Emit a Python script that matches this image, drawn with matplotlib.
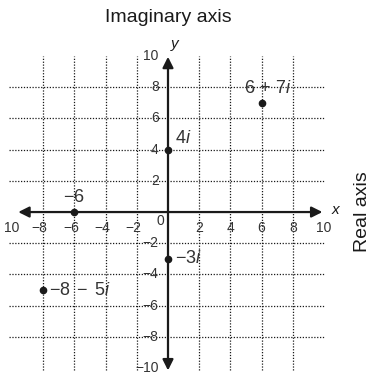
import matplotlib.pyplot as plt
import numpy as np

plt.rcParams['font.family'] = ['Liberation Sans', 'DejaVu Sans']
plt.rcParams['mathtext.fontset'] = 'custom'
plt.rcParams['mathtext.rm'] = 'Liberation Sans'
plt.rcParams['mathtext.it'] = 'Liberation Sans:italic'

# complex numbers plotted as (real, imaginary)
re_vals = [6, 0, -6, 0, -8]
im_vals = [7, 4, 0, -3, -5]
point_labels = [r'$6\,+\,7i$', r'$4i$', r'$-6$', r'$-3i$', r'$-8\;-\;5i$']

grid_vals = [-8, -6, -4, -2, 2, 4, 6, 8]
x_tick_vals = [-10, -8, -6, -4, -2, 2, 4, 6, 8, 10]
x_tick_labels = ['10', '\u22128', '\u22126', '\u22124', '\u22122', '2', '4', '6', '8', '10']
y_tick_vals = [10, 8, 6, 4, 2, -2, -4, -6, -8, -10]
y_tick_labels = ['10', '8', '6', '4', '2', '\u22122', '\u22124', '\u22126', '\u22128', '\u221210']

ink = '#1a1a1a'

fig = plt.figure(figsize=(3.70, 3.74), dpi=100)
ax = fig.add_axes([0, 0, 1, 1])
ax.set_xlim(-10.77, 12.95)
ax.set_ylim(-10.38, 13.59)
ax.axis('off')

# dotted grid
for g in grid_vals:
    ax.plot([g, g], [-10.1, 10.0], color=ink, lw=0.9, ls=(0, (1, 1.3)))
    ax.plot([-10.2, 10.0], [g, g], color=ink, lw=0.9, ls=(0, (1, 1.3)))

# axes with arrows
ax.annotate('', xy=(9.9, 0), xytext=(-9.6, 0),
            arrowprops=dict(arrowstyle='<|-|>', color=ink, lw=1.6,
                            mutation_scale=16, shrinkA=0, shrinkB=0))
ax.annotate('', xy=(0, 9.95), xytext=(0, -10.15),
            arrowprops=dict(arrowstyle='<|-|>', color=ink, lw=1.6,
                            mutation_scale=16, shrinkA=0, shrinkB=0))

# tick labels
for v, lab in zip(x_tick_vals, x_tick_labels):
    if lab.startswith('\u2212'):
        ax.text(v + 0.28, -1.05, lab, ha='right', va='center', fontsize=10, color='#333333')
    else:
        ax.text(v, -1.05, lab, ha='center', va='center', fontsize=10, color='#333333')
ax.text(-0.5, -0.6, '0', ha='center', va='center', fontsize=10, color='#333333')
for v, lab in zip(y_tick_vals, y_tick_labels):
    ax.text(-0.6, v, lab, ha='right', va='center', fontsize=10, color='#333333')

ax.text(0.4, 10.3, 'y', ha='center', va='bottom', fontsize=11, style='italic', color=ink)
ax.text(10.75, 0.15, 'x', ha='center', va='center', fontsize=11, style='italic', color=ink)

# points and labels
ax.plot(re_vals, im_vals, 'o', color=ink, ms=4.5)
label_pos = [(4.9, 7.9), (0.45, 4.7), (-6.75, 0.95), (0.45, -3.0), (-7.6, -5.0)]
for (lx, ly), lab in zip(label_pos, point_labels):
    ax.text(lx, ly, lab, ha='left', va='center', fontsize=13, color='#333333')

ax.text(0, 12.45, 'Imaginary axis', ha='center', va='center', fontsize=14, color=ink)
ax.text(12.5, 0, 'Real axis', ha='center', va='center', rotation=90, fontsize=14, color=ink)

plt.savefig('out.png', dpi=100)
